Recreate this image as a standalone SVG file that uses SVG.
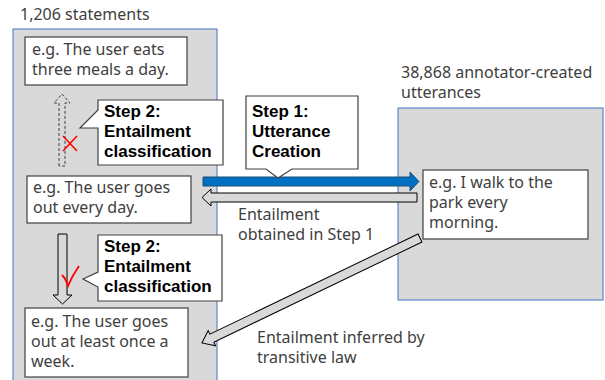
<svg xmlns="http://www.w3.org/2000/svg" width="605" height="380" viewBox="0 0 605 380">
<style>
.panel{fill:#D9D9D9;stroke:#4472C4;stroke-width:1}
.box{fill:#FFFFFF;stroke:#404040;stroke-width:1.2}
.callout{fill:#FFFFFF;stroke:#404040;stroke-width:1.2}
.t{font-family:"Noto Sans","Liberation Sans",sans-serif;font-size:16px;fill:#404040}
.b{font-family:"Liberation Sans","Noto Sans",sans-serif;font-size:17px;font-weight:bold;fill:#000000}
.garrow{fill:#D9D9D9;stroke:#000000;stroke-width:1}
</style>
<rect width="605" height="380" fill="#FFFFFF"/>
<g id="panel-statements">
<rect class="panel" x="13" y="29" width="204" height="360"/>
<text class="t" x="20" y="20">1,206 statements</text>
</g>
<g id="panel-utterances">
<rect class="panel" x="398" y="108" width="205" height="192"/>
<text class="t" x="401" y="78">38,868 annotator-created</text>
<text class="t" x="401" y="98">utterances</text>
</g>
<g id="connectors">
<path d="M59,166 L59,103 L54,103 L62,94 L70,103 L65,103 L65,166 Z" fill="#D9D9D9" stroke="#404040" stroke-width="1" stroke-dasharray="3,2"/>
<path class="garrow" d="M58,234 L67,234 L67,295 L72,295 L62.5,304 L53,295 L58,295 Z"/>
<path d="M203,177 L410,177 L410,172 L419,181.5 L410,191 L410,186 L203,186 Z" fill="#0070C0" stroke="#1F4E79" stroke-width="1"/>
<path class="garrow" d="M417,193 L211,193 L211,189 L202,197.5 L211,206 L211,202 L417,202 Z"/>
<g transform="translate(420,238) rotate(154.3)">
<path class="garrow" d="M0,-4.5 L231,-4.5 L231,-8.5 L242,0 L231,8.5 L231,4.5 L0,4.5 Z"/>
</g>
<path d="M63,136 L77,151 M77,136 L63,151" stroke="#FF0000" stroke-width="1.6" fill="none"/>
<path d="M62,275 Q66,279 68,286 Q72,276 79,266" stroke="#FF0000" stroke-width="1.8" fill="none"/>
</g>
<g id="node-meals">
<rect class="box" x="25" y="37" width="162" height="48"/>
<text class="t" x="32" y="55">e.g. The user eats</text>
<text class="t" x="32" y="75">three meals a day.</text>
</g>
<g id="node-every-day">
<rect class="box" x="27" y="176" width="164" height="47"/>
<text class="t" x="33" y="193">e.g. The user goes</text>
<text class="t" x="33" y="213">out every day.</text>
</g>
<g id="node-once-week">
<rect class="box" x="25" y="308" width="163" height="69"/>
<text class="t" x="31" y="327">e.g. The user goes</text>
<text class="t" x="31" y="347">out at least once a</text>
<text class="t" x="31" y="367">week.</text>
</g>
<g id="node-park">
<rect class="box" x="423" y="170" width="165" height="69"/>
<text class="t" x="429" y="188">e.g. I walk to the</text>
<text class="t" x="429" y="208">park every</text>
<text class="t" x="429" y="228">morning.</text>
</g>
<g id="callout-step2-upper">
<path class="callout" d="M98,100 L223,100 L223,165 L98,165 L98,128 L80,128 L98,110 Z"/>
<text class="b" x="104" y="117">Step 2:</text>
<text class="b" x="104" y="137">Entailment</text>
<text class="b" x="104" y="157">classification</text>
</g>
<g id="callout-step2-lower">
<path class="callout" d="M98,235 L222,235 L222,301 L98,301 L98,287 L83,279 L98,272 Z"/>
<text class="b" x="104" y="252">Step 2:</text>
<text class="b" x="104" y="272">Entailment</text>
<text class="b" x="104" y="292">classification</text>
</g>
<g id="callout-step1">
<path class="callout" d="M246,96 L358,96 L358,169 L292,169 L278,178 L266,169 L246,169 Z"/>
<text class="b" x="252" y="117">Step 1:</text>
<text class="b" x="252" y="137">Utterance</text>
<text class="b" x="252" y="157">Creation</text>
</g>
<g id="label-obtained">
<text class="t" x="238" y="220">Entailment</text>
<text class="t" x="238" y="240">obtained in Step 1</text>
</g>
<g id="label-inferred">
<text class="t" x="257" y="343">Entailment inferred by</text>
<text class="t" x="257" y="363">transitive law</text>
</g>
</svg>
